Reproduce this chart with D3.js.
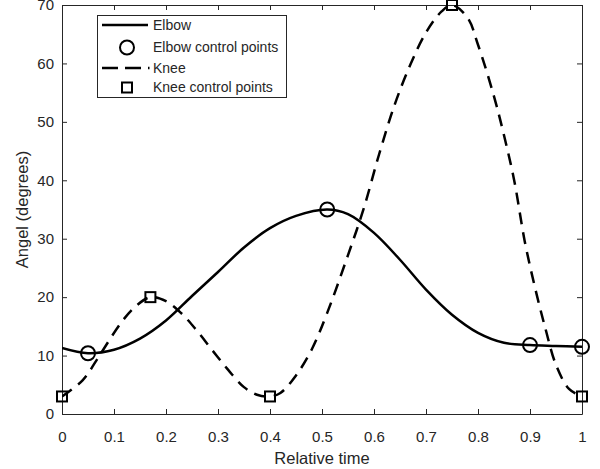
<html>
<head>
  <script src="https://d3js.org/d3.v7.min.js"></script>
  <style>
  body { margin: 0; background: #fff; }
  text { font-family: "Liberation Sans", Arial, Helvetica, sans-serif; fill: #262626; }
  .axis path, .axis line { stroke: #262626; }
  </style>
</head>
<body>
  <svg id="chart" width="600" height="469" style="background: #fff"></svg>
  <script>

  // control points (markers)
  const elbowCtrlX = [0.05, 0.51, 0.9, 1.0];
  const elbowCtrlY = [10.4, 35, 11.8, 11.5];
  const kneeCtrlX = [0, 0.17, 0.4, 0.75, 1.0];
  const kneeCtrlY = [3, 20, 3, 70, 3];

  // curves
  const elbowX = [0, 0.05, 0.1, 0.15, 0.2, 0.25, 0.3, 0.35, 0.4, 0.45, 0.51, 0.55, 0.6, 0.65, 0.7, 0.75, 0.8, 0.85, 0.9, 0.95, 1.0];
  const elbowY = [11.3, 10.4, 11.0, 12.9, 16.0, 20.2, 24.3, 28.5, 31.8, 33.9, 35, 34.2, 31.0, 26.4, 21.3, 17.0, 13.9, 12.2, 11.8, 11.65, 11.5];
  const kneeX = [0, 0.04, 0.065, 0.09, 0.115, 0.14, 0.17, 0.2, 0.23, 0.26, 0.29, 0.32, 0.35, 0.375, 0.4, 0.42, 0.45, 0.48, 0.51, 0.55, 0.58, 0.61, 0.64, 0.67, 0.7, 0.73, 0.75, 0.78, 0.8, 0.83, 0.85, 0.87, 0.89, 0.91, 0.93, 0.95, 0.975, 1.0];
  const kneeY = [3, 5.8, 9.0, 12.5, 15.8, 18.3, 20, 19.3, 17.2, 14.2, 10.8, 7.5, 4.6, 3.3, 3, 3.6, 6.6, 11.0, 17.3, 27.2, 35.1, 44.5, 53.0, 59.8, 65.3, 68.9, 70, 67.8, 63.2, 54.6, 47.7, 39.8, 29.5, 21.5, 14.5, 8.4, 4.3, 3];

  const xTicks = [0, 0.1, 0.2, 0.3, 0.4, 0.5, 0.6, 0.7, 0.8, 0.9, 1];
  const yTicks = [0, 10, 20, 30, 40, 50, 60, 70];
  const legendLabels = ["Elbow", "Elbow control points", "Knee", "Knee control points"];

  const svg = d3.select("#chart");
  const margin = { top: 5, right: 18, bottom: 55, left: 62 };
  const width = +svg.attr("width") - margin.left - margin.right;
  const height = +svg.attr("height") - margin.top - margin.bottom;

  const x = d3.scaleLinear().domain([0, 1]).range([0, width]);
  const y = d3.scaleLinear().domain([0, 70]).range([height, 0]);

  const g = svg.append("g").attr("transform", "translate(" + margin.left + "," + margin.top + ")");

  g.append("defs").append("clipPath").attr("id", "clip")
    .append("rect").attr("width", width).attr("height", height);

  // box axes, ticks pointing inward
  const fmtX = d => d === 0 || d === 1 ? d3.format("d")(d) : d3.format(".1f")(d);
  g.append("g").attr("class", "axis").attr("transform", "translate(0," + height + ")")
    .call(d3.axisBottom(x).tickValues(xTicks).tickFormat(fmtX).tickSizeInner(-5).tickSizeOuter(0).tickPadding(17))
    .call(a => a.selectAll("text").style("font-size", "15px"));
  g.append("g").attr("class", "axis")
    .call(d3.axisLeft(y).tickValues(yTicks).tickSizeInner(-5).tickSizeOuter(0).tickPadding(8))
    .call(a => a.selectAll("text").style("font-size", "15px"));
  g.append("g").attr("class", "axis")
    .call(d3.axisTop(x).tickValues(xTicks).tickFormat("").tickSizeInner(-5).tickSizeOuter(0));
  g.append("g").attr("class", "axis").attr("transform", "translate(" + width + ",0)")
    .call(d3.axisRight(y).tickValues(yTicks).tickFormat("").tickSizeInner(-5).tickSizeOuter(0));

  const line = d3.line().x(d => x(d[0])).y(d => y(d[1])).curve(d3.curveCatmullRom.alpha(0.5));

  const lines = g.append("g").attr("clip-path", "url(#clip)");
  lines.append("path")
    .datum(elbowX.map((v, i) => [v, elbowY[i]]))
    .attr("d", line).attr("fill", "none").attr("stroke", "#000").attr("stroke-width", 2.5);
  lines.append("path")
    .datum(kneeX.map((v, i) => [v, kneeY[i]]))
    .attr("d", line).attr("fill", "none").attr("stroke", "#000").attr("stroke-width", 2.5)
    .attr("stroke-dasharray", "12,8");

  g.selectAll("circle.elbow").data(elbowCtrlX.map((v, i) => [v, elbowCtrlY[i]]))
    .join("circle").attr("class", "elbow")
    .attr("cx", d => x(d[0])).attr("cy", d => y(d[1])).attr("r", 7)
    .attr("fill", "none").attr("stroke", "#000").attr("stroke-width", 2);
  g.selectAll("rect.knee").data(kneeCtrlX.map((v, i) => [v, kneeCtrlY[i]]))
    .join("rect").attr("class", "knee")
    .attr("x", d => x(d[0]) - 5).attr("y", d => y(d[1]) - 5).attr("width", 10).attr("height", 10)
    .attr("fill", "none").attr("stroke", "#000").attr("stroke-width", 2);

  // axis labels
  svg.append("text").attr("x", margin.left + width / 2).attr("y", 464)
    .attr("text-anchor", "middle").style("font-size", "16.5px").text("Relative time");
  svg.append("text").attr("transform", "translate(28," + (margin.top + height / 2) + ") rotate(-90)")
    .attr("text-anchor", "middle").style("font-size", "16.5px").text("Angel (degrees)");

  // legend
  const legend = svg.append("g");
  legend.append("rect").attr("x", 97.5).attr("y", 15.5).attr("width", 189).attr("height", 82)
    .attr("fill", "#fff").attr("stroke", "#262626").attr("stroke-width", 1);
  const rowY = [25, 47.5, 68, 87.5];
  legend.selectAll("text.lab").data(legendLabels).join("text").attr("class", "lab")
    .attr("x", 153).attr("y", (d, i) => rowY[i]).attr("dy", "0.35em")
    .style("font-size", "14px").text(d => d);
  legend.append("line").attr("x1", 102).attr("x2", 148).attr("y1", rowY[0]).attr("y2", rowY[0])
    .attr("stroke", "#000").attr("stroke-width", 2.5);
  legend.append("circle").attr("cx", 127).attr("cy", rowY[1]).attr("r", 7)
    .attr("fill", "none").attr("stroke", "#000").attr("stroke-width", 2);
  legend.append("line").attr("x1", 102).attr("x2", 149.5).attr("y1", rowY[2]).attr("y2", rowY[2])
    .attr("stroke", "#000").attr("stroke-width", 2.5).attr("stroke-dasharray", "16,7");
  legend.append("rect").attr("x", 122).attr("y", rowY[3] - 5).attr("width", 10).attr("height", 10)
    .attr("fill", "none").attr("stroke", "#000").attr("stroke-width", 2);

  </script>
</body>
</html>
